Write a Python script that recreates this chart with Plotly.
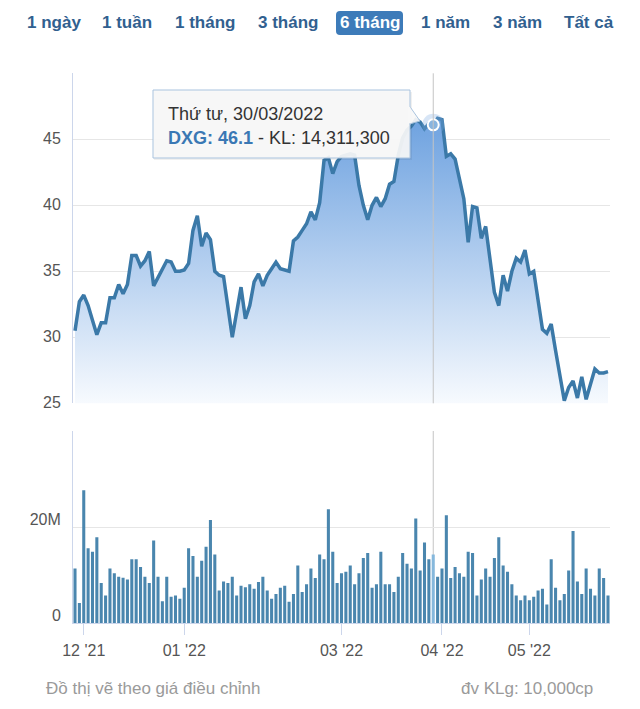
import pandas as pd
import plotly.graph_objects as go

# ---------------- data ----------------
holidays = ['2022-01-31', '2022-02-01', '2022-02-02', '2022-02-03', '2022-02-04',
            '2022-04-11', '2022-05-02', '2022-05-03']
dates = [d.strftime('%Y-%m-%d') for d in
         pd.bdate_range('2021-11-29', '2022-05-30', freq='C', holidays=holidays)]

price = [
    30.5, 32.7, 33.2, 32.4, 31.3, 30.2, 31.1, 31.1, 33.0, 33.0,
    34.0, 33.3, 34.0, 36.2, 36.2, 35.4, 35.8, 36.5, 33.9, 34.5,
    35.1, 35.8, 35.7, 35.0, 35.0, 35.1, 35.6, 38.1, 39.2, 36.9,
    37.9, 37.4, 35.0, 34.7, 34.6, 32.3, 30.0, 31.9, 33.8, 31.4,
    32.4, 34.2, 34.8, 33.9, 34.7, 35.2, 35.7, 35.2, 35.1, 35.0,
    37.3, 37.6, 38.1, 38.6, 39.5, 38.9, 40.2, 43.4, 43.6, 42.4,
    43.3, 43.7, 43.8, 43.9, 43.8, 41.5, 40.0, 38.9, 40.0, 40.6,
    39.9, 40.5, 41.6, 41.8, 43.8, 45.1, 45.7, 46.0, 46.5, 46.3,
    45.8, 46.2, 46.1, 46.6, 46.5, 43.7, 43.9, 43.5, 42.0, 40.5,
    37.2, 39.9, 39.8, 37.5, 38.4, 35.8, 33.4, 32.4, 34.7, 33.5,
    35.0, 36.0, 35.7, 36.6, 34.8, 35.0, 32.8, 30.6, 30.3, 31.0,
    29.0, 27.1, 25.2, 26.2, 26.7, 25.4, 27.0, 25.3, 26.5, 27.6,
    27.3, 27.3, 27.4]

volume_m = [
    11.4, 4.2, 27.7, 15.6, 14.9, 17.9, 8.4, 5.8, 11.4, 10.4,
    9.7, 9.5, 9.1, 13.3, 13.3, 11.7, 9.7, 8.4, 17.2, 9.7,
    4.6, 9.7, 5.5, 5.8, 5.1, 7.4, 15.6, 14.0, 9.7, 13.0,
    15.9, 21.5, 14.3, 6.8, 8.7, 8.4, 9.7, 5.8, 7.8, 7.5,
    8.1, 7.2, 8.6, 9.7, 6.8, 5.1, 6.1, 7.4, 7.8, 4.5,
    6.1, 12.0, 6.5, 8.1, 11.4, 9.4, 14.3, 13.3, 23.7, 14.9,
    8.4, 10.4, 10.7, 12.0, 8.1, 10.4, 13.6, 14.6, 7.4, 8.1,
    14.9, 8.1, 8.1, 6.5, 9.7, 14.6, 12.4, 11.4, 21.8, 11.0,
    16.8, 13.3, 14.3113, 9.7, 11.4, 22.5, 9.4, 11.7, 10.4, 9.7,
    14.9, 14.6, 5.8, 9.1, 11.4, 9.7, 13.6, 17.9, 12.0, 10.7,
    8.1, 5.8, 4.8, 5.8, 4.8, 5.5, 6.8, 7.2, 3.9, 13.3,
    7.4, 4.8, 6.1, 11.0, 19.2, 8.7, 6.1, 11.4, 7.2, 5.8,
    11.4, 9.4, 5.8]

tick_dates = ['2021-12-01', '2022-01-03', '2022-03-01', '2022-04-01', '2022-05-04']
tick_labels = ["12 '21", "01 '22", "03 '22", "04 '22", "05 '22"]
price_ticks = [25, 30, 35, 40, 45, 50]
price_tick_text = ['25', '30', '35', '40', '45', '']
vol_ticks = [0, 20, 40]
vol_tick_text = ['0', '20M', '']
buttons = ['1 ngày', '1 tuần', '1 tháng', '3 tháng', '6 tháng', '1 năm', '3 năm', 'Tất cả']
selected_button = '6 tháng'
symbol = 'DXG'
hover_date = '2022-03-30'
weekday_vi = ['Thứ hai', 'Thứ ba', 'Thứ tư', 'Thứ năm', 'Thứ sáu', 'Thứ bảy', 'Chủ nhật']

assert len(dates) == len(price) == len(volume_m)

# ---------------- style ----------------
PAGE_W, PAGE_H = 640, 709
OFF = 8                       # page body margin
W, H = PAGE_W - 2 * OFF, PAGE_H - 2 * OFF
FONT = 'Liberation Sans, Arial, sans-serif'
LINE = '#3b79a8'
BAR = '#4a86ae'
BAR_HOVER = '#86b8dc'
GRID = '#e6e6e6'
AXIS = '#ccd6eb'
LABEL = '#555555'

PLOT_L, PLOT_R = 73, 610
P_TOP, P_BOT = 73.3, 403.3
V_TOP, V_BOT = 431.0, 623.3


def px(x):
    return (x - OFF) / W


def py(y):
    return 1 - (y - OFF) / H


n = len(dates)
hi = dates.index(hover_date)
xr = [-0.46, n - 1 + 0.46]

fig = go.Figure()

fig.add_trace(go.Scatter(
    x=dates, y=price, mode='lines', xaxis='x', yaxis='y',
    line=dict(color=LINE, width=3.5),
    fill='tozeroy',
    fillgradient=dict(type='vertical', start=25, stop=50,
                      colorscale=[[0, 'rgb(247,250,254)'], [1, 'rgb(88,148,219)']]),
    hoverinfo='skip', showlegend=False))

bar_colors = [BAR] * n
bar_colors[hi] = BAR_HOVER
fig.add_trace(go.Bar(
    x=dates, y=volume_m, xaxis='x2', yaxis='y2',
    marker=dict(color=bar_colors, line=dict(width=0)),
    hoverinfo='skip', showlegend=False))

# hovered point halo + marker
fig.add_trace(go.Scatter(
    x=[dates[hi]], y=[price[hi]], mode='markers', xaxis='x', yaxis='y',
    marker=dict(size=22, color='rgba(124,170,225,0.3)', line=dict(width=0)),
    hoverinfo='skip', showlegend=False))
fig.add_trace(go.Scatter(
    x=[dates[hi]], y=[price[hi]], mode='markers', xaxis='x', yaxis='y',
    marker=dict(size=11, color='#88b4df', line=dict(width=2, color='white')),
    hoverinfo='skip', showlegend=False))

shapes = []
# crosshair
shapes.append(dict(type='line', xref='x', yref='y domain', x0=dates[hi], x1=dates[hi],
                   y0=0, y1=1, line=dict(color='#c4c4c4', width=1), layer='above'))
shapes.append(dict(type='line', xref='x2', yref='y2 domain', x0=dates[hi], x1=dates[hi],
                   y0=0, y1=1, line=dict(color='#c4c4c4', width=1), layer='below'))

# tooltip box with shadow and callout
bx0, bx1, by0, by1 = 153, 410, 90, 158
shapes.append(dict(type='rect', xref='paper', yref='paper',
                   x0=px(bx0 + 1), x1=px(bx1 + 2), y0=py(by0 + 2), y1=py(by1 + 2),
                   fillcolor='rgba(0,0,0,0.06)', line=dict(width=0), layer='above'))
shapes.append(dict(type='rect', xref='paper', yref='paper',
                   x0=px(bx0), x1=px(bx1), y0=py(by0), y1=py(by1),
                   fillcolor='rgba(248,248,248,0.93)', line=dict(color='#a9c3de', width=1),
                   layer='above'))
tri = 'M {},{} L {},{} L {},{} Z'.format(px(bx1 - 0.5), py(106), px(bx1 + 10), py(121),
                                          px(bx1 - 0.5), py(124))
shapes.append(dict(type='path', xref='paper', yref='paper', path=tri,
                   fillcolor='rgba(248,248,248,0.93)', line=dict(color='#a9c3de', width=1),
                   layer='above'))
shapes.append(dict(type='line', xref='paper', yref='paper', x0=px(bx1 - 0.5), x1=px(bx1 - 0.5),
                   y0=py(106.5), y1=py(123.5), line=dict(color='rgba(248,248,248,1)', width=1.5),
                   layer='above'))

# selected range button
sb_x0, sb_x1, sb_y0, sb_y1, r = 336, 403, 11, 35, 4
path = ('M {a},{t} L {b},{t} Q {c},{t} {c},{u} L {c},{v} Q {c},{bt} {b},{bt} '
        'L {a},{bt} Q {l},{bt} {l},{v} L {l},{u} Q {l},{t} {a},{t} Z').format(
    a=px(sb_x0 + r), b=px(sb_x1 - r), c=px(sb_x1), l=px(sb_x0),
    t=py(sb_y0), u=py(sb_y0 + r), v=py(sb_y1 - r), bt=py(sb_y1))
shapes.append(dict(type='path', xref='paper', yref='paper', path=path,
                   fillcolor='#3d7bb9', line=dict(width=0), layer='above'))

annotations = []
btn_centers = [53.5, 127, 205, 287.5, 369.5, 445, 517.5, 588.5]
for label, cx in zip(buttons, btn_centers):
    annotations.append(dict(
        text='<b>{}</b>'.format(label), xref='paper', yref='paper',
        x=px(cx), y=py(22.5), xanchor='center', yanchor='middle', showarrow=False,
        font=dict(family=FONT, size=17,
                  color='white' if label == selected_button else '#31608f')))

d = pd.Timestamp(dates[hi])
line1 = '{}, {}'.format(weekday_vi[d.weekday()], d.strftime('%d/%m/%Y'))
line2 = ("<span style='color:#3a78b4'><b>{}: {}</b></span> - KL: {:,}".format(
    symbol, price[hi], int(round(volume_m[hi] * 1e6))))
annotations.append(dict(text=line1, xref='paper', yref='paper', x=px(166), y=py(114),
                        xanchor='left', yanchor='middle', showarrow=False,
                        font=dict(family=FONT, size=18, color='#333333')))
annotations.append(dict(text=line2, xref='paper', yref='paper', x=px(166), y=py(138),
                        xanchor='left', yanchor='middle', showarrow=False,
                        font=dict(family=FONT, size=18, color='#333333')))

annotations.append(dict(text='Đồ thị vẽ theo giá điều chỉnh', xref='paper', yref='paper',
                        x=px(44), y=py(688), xanchor='left', yanchor='middle', showarrow=False,
                        font=dict(family=FONT, size=17, color='#9a9a9a')))
annotations.append(dict(text='đv KLg: 10,000cp', xref='paper', yref='paper',
                        x=px(595), y=py(688), xanchor='right', yanchor='middle', showarrow=False,
                        font=dict(family=FONT, size=17, color='#9a9a9a')))

dom_x = [px(PLOT_L), px(PLOT_R)]
fig.update_layout(
    width=W, height=H, autosize=False,
    margin=dict(l=0, r=0, t=0, b=0, pad=0),
    paper_bgcolor='white', plot_bgcolor='white',
    font=dict(family=FONT, size=16, color=LABEL),
    bargap=0.3, showlegend=False, hovermode=False,
    xaxis=dict(type='category', domain=dom_x, range=xr, anchor='y', automargin=False,
               showticklabels=False, showgrid=False, zeroline=False, showline=False,
               ticks=''),
    xaxis2=dict(type='category', domain=dom_x, range=xr, anchor='y2', matches='x',
                automargin=False,
                tickmode='array', tickvals=tick_dates, ticktext=tick_labels,
                ticks='outside', ticklen=11, tickwidth=1, tickcolor=AXIS,
                showgrid=False, zeroline=False, showline=True, linecolor=AXIS,
                tickfont=dict(size=16, color=LABEL), ticklabelstandoff=1),
    yaxis=dict(domain=[py(P_BOT), py(P_TOP)], range=[25, 50], anchor='x', automargin=False,
               tickmode='array', tickvals=price_ticks, ticktext=price_tick_text,
               showgrid=True, gridcolor=GRID, gridwidth=1, zeroline=False,
               showline=True, linecolor=AXIS, ticks='',
               tickfont=dict(size=16, color=LABEL), ticklabelstandoff=8,
               ticklabelshift=-1),
    yaxis2=dict(domain=[py(V_BOT), py(V_TOP)], range=[0, 40], anchor='x2', automargin=False,
                tickmode='array', tickvals=vol_ticks, ticktext=vol_tick_text,
                showgrid=True, gridcolor=GRID, gridwidth=1, zeroline=False,
                showline=True, linecolor=AXIS, ticks='',
                tickfont=dict(size=16, color=LABEL), ticklabelstandoff=8,
                ticklabelshift=-8),
    shapes=shapes, annotations=annotations,
)

fig.write_html('out.html', config={'displayModeBar': False})
